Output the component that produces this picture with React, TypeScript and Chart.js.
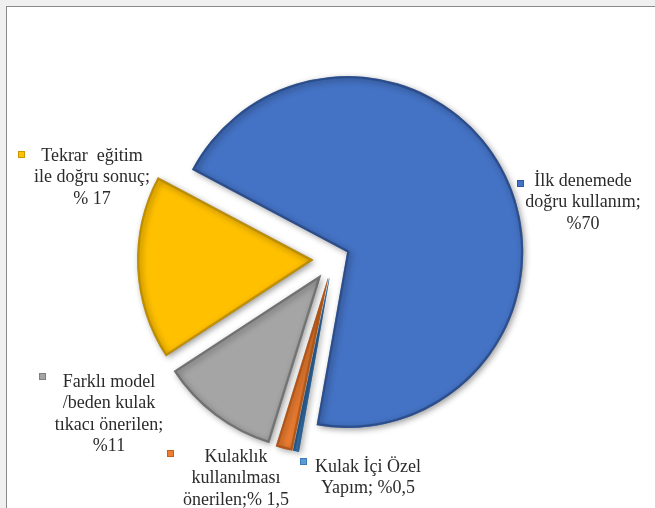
import React, { useEffect, useRef } from "react";
import { Chart, registerables } from "chart.js";

Chart.register(...registerables);

// ---- data ----
const categories = [
  "İlk denemede doğru kullanım",
  "Kulak İçi Özel Yapım",
  "Kulaklık kullanılması önerilen",
  "Farklı model /beden kulak tıkacı önerilen",
  "Tekrar eğitim ile doğru sonuç",
];
const values = [70, 0.5, 1.5, 11, 17];
const labelLines = [
  ["İlk denemede", "doğru kullanım;", "%70"],
  ["Kulak İçi Özel", "Yapım; %0,5"],
  ["Kulaklık", "kullanılması", "önerilen;% 1,5"],
  ["Farklı model", "/beden kulak", "tıkacı önerilen;", "%11"],
  ["Tekrar  eğitim", "ile doğru sonuç;", "% 17"],
];

// ---- styles ----
const colors = ["#4472C4", "#5B9BD5", "#ED7D31", "#A5A5A5", "#FFC000"];
const borderColors = [
  "rgba(38,70,130,0.75)",
  "rgba(40,100,160,0.8)",
  "rgba(170,80,20,0.75)",
  "rgba(100,100,100,0.7)",
  "rgba(175,130,0,0.7)",
];
const markerBorders = ["#30589F", "#3A7AB8", "#C5611C", "#7F7F7F", "#C99700"];
const explode = [16, 20, 20, 20, 20];
const labelPlacement = [
  { x: 583, y: 181, mx: 517, my: 180 },
  { x: 368, y: 467, mx: 300, my: 458 },
  { x: 236, y: 457, mx: 167, my: 450 },
  { x: 109, y: 382, mx: 39, my: 373 },
  { x: 92, y: 156, mx: 18, my: 151 },
];
const LINE_H = 21.5;
const FONT = '18px "Liberation Serif", "Times New Roman", serif';

const explodePlugin = {
  id: "explodeSlices",
  afterDatasetUpdate(chart: any, args: any) {
    const meta = args.meta;
    meta.data.forEach((arc: any, i: number) => {
      const e = explode[i] || 0;
      const mid = (arc.startAngle + arc.endAngle) / 2;
      arc.x += Math.cos(mid) * e;
      arc.y += Math.sin(mid) * e;
    });
  },
  beforeDatasetsDraw(chart: any) {
    const ctx = chart.ctx;
    ctx.save();
    ctx.shadowColor = "rgba(0,0,0,0.4)";
    ctx.shadowBlur = 6;
    ctx.shadowOffsetX = 2;
    ctx.shadowOffsetY = 2;
  },
  afterDatasetsDraw(chart: any) {
    chart.ctx.restore();
  },
};

const labelPlugin = {
  id: "sliceLabels",
  afterDraw(chart: any) {
    const ctx = chart.ctx;
    ctx.save();
    ctx.font = FONT;
    ctx.textAlign = "center";
    ctx.textBaseline = "middle";
    labelLines.forEach((lines, i) => {
      const p = labelPlacement[i];
      ctx.fillStyle = colors[i];
      ctx.fillRect(p.mx, p.my, 7, 7);
      ctx.strokeStyle = markerBorders[i];
      ctx.lineWidth = 1;
      ctx.strokeRect(p.mx + 0.5, p.my + 0.5, 6, 6);
      ctx.fillStyle = "#2b2b2b";
      lines.forEach((t, j) => {
        ctx.fillText(t, p.x, p.y + j * LINE_H);
      });
    });
    ctx.restore();
  },
};

export default function App() {
  const ref = useRef<HTMLCanvasElement | null>(null);
  useEffect(() => {
    if (!ref.current) return;
    const chart = new Chart(ref.current, {
      type: "pie",
      data: {
        labels: categories,
        datasets: [
          {
            data: values,
            backgroundColor: colors,
            borderColor: borderColors,
            borderWidth: 2,
            borderAlign: "inner",
            radius: 176,
          } as any,
        ],
      },
      options: {
        responsive: false,
        animation: false,
        events: [],
        rotation: 298,
        layout: { padding: { left: 11, right: 0, top: 10, bottom: 0 } },
        plugins: {
          legend: { display: false },
          tooltip: { enabled: false },
          title: { display: false },
        },
      },
      plugins: [explodePlugin, labelPlugin],
    });
    return () => chart.destroy();
  }, []);

  return (
    <div
      style={{
        position: "fixed",
        left: 0,
        top: 0,
        width: 655,
        height: 508,
        background: "#f0f0f0",
        overflow: "hidden",
      }}
    >
      <div
        style={{
          position: "absolute",
          left: 6,
          top: 6,
          right: 0,
          bottom: 0,
          background: "#ffffff",
          borderLeft: "1px solid #8a8a8a",
          borderTop: "1px solid #8a8a8a",
        }}
      />
      <canvas
        ref={ref}
        width={655}
        height={508}
        style={{ position: "absolute", left: 0, top: 0, width: 655, height: 508 }}
      />
    </div>
  );
}
